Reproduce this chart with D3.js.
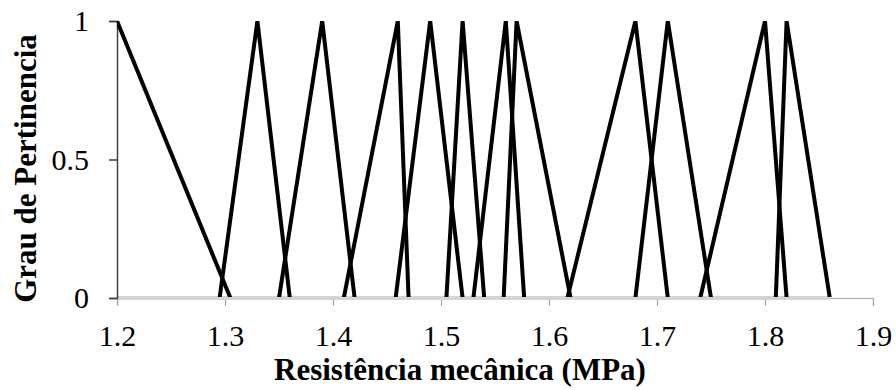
<!DOCTYPE html>
<html>
<head>
<meta charset="utf-8">
<script src="https://cdn.jsdelivr.net/npm/d3@7"></script>
</head>
<body style="margin:0">
<svg id="chart" width="896" height="390"></svg>
<script>
// triangular membership functions: foot left, peak, foot right
let leftFoot  = [1.2,   1.295, 1.35, 1.41, 1.458, 1.505, 1.53,  1.558, 1.617, 1.68, 1.74, 1.81];
let peaks     = [1.2,   1.33,  1.39, 1.46, 1.49,  1.52,  1.56,  1.57,  1.68,  1.71, 1.80, 1.82];
let rightFoot = [1.305, 1.36,  1.42, 1.47, 1.52,  1.54,  1.577, 1.62,  1.71,  1.75, 1.82, 1.86];
let xTicks = [1.2, 1.3, 1.4, 1.5, 1.6, 1.7, 1.8, 1.9];
let yTicks = [0, 0.5, 1];
let xTitle = "Resistência mecânica (MPa)";
let yTitle = "Grau de Pertinencia";

const serif = "Liberation Serif";

let margin = {top: 21, right: 23, bottom: 92, left: 117},
    width = 896 - margin.left - margin.right,
    height = 390 - margin.top - margin.bottom;

let svg = d3.select("#chart");
let g = svg.append("g")
    .attr("transform", "translate(" + margin.left + "," + margin.top + ")");

let x = d3.scaleLinear().domain([1.2, 1.9]).range([0, width]);
let y = d3.scaleLinear().domain([0, 1]).range([height, 0]);

g.append("clipPath").attr("id", "plot-clip")
    .append("rect")
    .attr("x", 0).attr("y", 0)
    .attr("width", width).attr("height", height - 1);

// x axis
let xAxis = g.append("g")
    .attr("transform", "translate(0," + height + ")")
    .call(d3.axisBottom(x).tickValues(xTicks).tickSize(8).tickPadding(19)
        .tickFormat(d3.format(".1f")));
xAxis.select(".domain").attr("stroke", "#a6a6a6").attr("stroke-width", 1.2);
xAxis.selectAll(".tick line").attr("stroke", "#a6a6a6").attr("stroke-width", 1.2);
xAxis.selectAll(".tick text")
    .attr("fill", "#000")
    .attr("font-family", serif)
    .attr("font-size", 30);

// light grey band along zero
g.append("line")
    .attr("x1", x(1.2)).attr("x2", x(d3.max(rightFoot)))
    .attr("y1", y(0)).attr("y2", y(0))
    .attr("stroke", "#d4d4d4")
    .attr("stroke-width", 4);

// y axis
let yAxis = g.append("g")
    .call(d3.axisLeft(y).tickValues(yTicks).tickSize(8).tickPadding(20)
        .tickFormat(function (d) { return d === 0.5 ? "0.5" : d3.format("d")(d); }));
yAxis.select(".domain").attr("stroke", "#404040").attr("stroke-width", 1.5);
yAxis.selectAll(".tick line").attr("stroke", "#404040").attr("stroke-width", 1.5);
yAxis.selectAll(".tick text")
    .attr("fill", "#000")
    .attr("font-family", serif)
    .attr("font-size", 30);

// membership lines
let line = d3.line()
    .x(function (d) { return x(d[0]); })
    .y(function (d) { return y(d[1]); });

let sets = leftFoot.map(function (a, i) {
    if (a === peaks[i]) return [[peaks[i], 1], [rightFoot[i], 0]];
    return [[a, 0], [peaks[i], 1], [rightFoot[i], 0]];
});

g.append("g")
    .attr("clip-path", "url(#plot-clip)")
    .selectAll("path")
    .data(sets)
    .enter().append("path")
    .attr("d", line)
    .attr("fill", "none")
    .attr("stroke", "#000")
    .attr("stroke-width", 4)
    .attr("stroke-linejoin", "miter");

// axis titles
svg.append("text")
    .attr("x", 460)
    .attr("y", 380)
    .attr("text-anchor", "middle")
    .attr("font-family", serif)
    .attr("font-size", 31)
    .attr("font-weight", "bold")
    .text(xTitle);

svg.append("text")
    .attr("transform", "translate(36,168.5) rotate(-90)")
    .attr("text-anchor", "middle")
    .attr("font-family", serif)
    .attr("font-size", 31)
    .attr("font-weight", "bold")
    .text(yTitle);
</script>
</body>
</html>
